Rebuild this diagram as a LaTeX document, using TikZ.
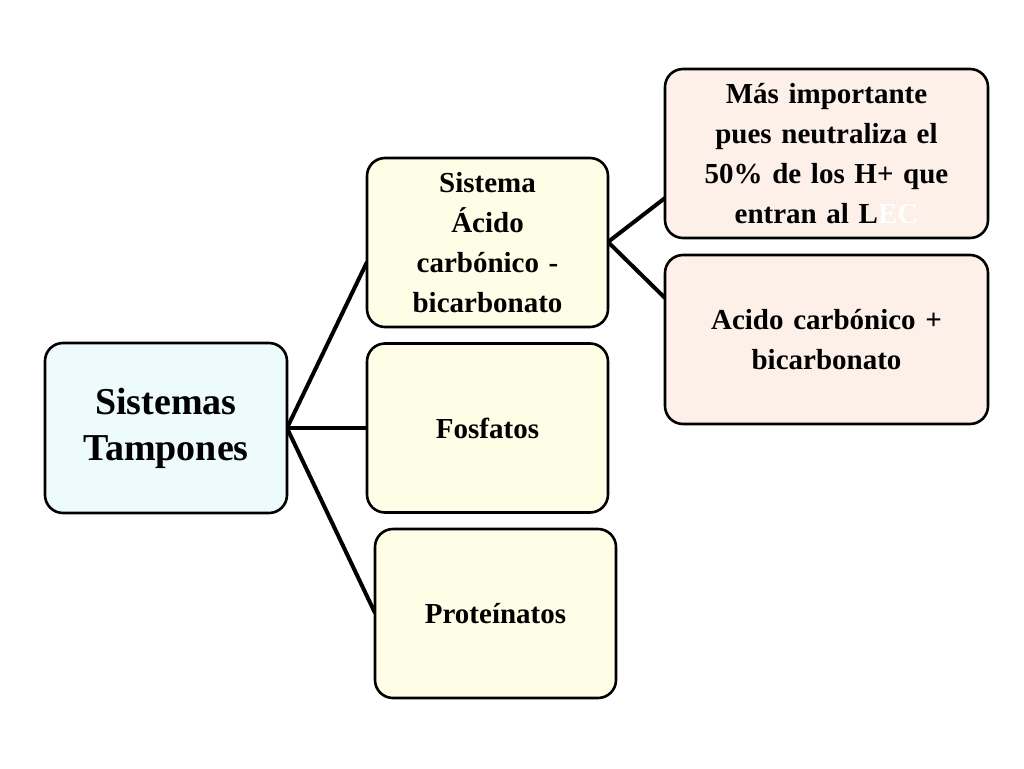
\documentclass[tikz,border=0pt]{standalone}
\usepackage{fontspec}
\setmainfont{Liberation Serif}
\usetikzlibrary{positioning}
\definecolor{rootfill}{HTML}{EEFBFD}
\definecolor{midfill}{HTML}{FEFEE6}
\definecolor{leaffill}{HTML}{FDF0E8}

\begin{document}
\begin{tikzpicture}[x=1pt,y=-1pt,semithick,
  box/.style={draw,line width=2.6pt,rounded corners=18pt,align=center,
    font=\bfseries\fontsize{29}{40}\selectfont,inner sep=2pt},
  rootbox/.style={box,fill=rootfill,minimum width=242pt,minimum height=170pt,
    font=\bfseries\fontsize{38}{46}\selectfont},
  midbox/.style={box,fill=midfill,minimum width=241pt,minimum height=169pt,text width=235pt},
  leafbox/.style={box,fill=leaffill,minimum width=323pt,minimum height=169pt,text width=318pt},
  link/.style={line width=4pt}]

        \useasboundingbox (0,0) rectangle (1024,768);

        \draw[link] (287,428) -- (367,262);
        \draw[link] (287,428) -- (367,428);
        \draw[link] (287,428) -- (375,613);
        \draw[link] (608,242) -- (665,198);
        \draw[link] (608,242) -- (665,298);

        \node[rootbox] (root) at (166,428)   {Sistemas\\Tampones};
        \node[midbox]  (acid) at (487.5,242.5) {Sistema\\Ácido\\carbónico -\\bicarbonato};
        \node[midbox]  (fosf) at (487.5,428) {Fosfatos};
        \node[midbox]  (prot) at (495.5,613.5) {Proteínatos};
        \node[leafbox] (imp)  at (826.5,153.5) {Más importante\\pues neutraliza el\\50\% de los H+ que\\entran al L\textcolor{white}{EC}};
        \node[leafbox] (mix)  at (826.5,339.5) {Acido carbónico +\\bicarbonato};
\end{tikzpicture}
\end{document}
